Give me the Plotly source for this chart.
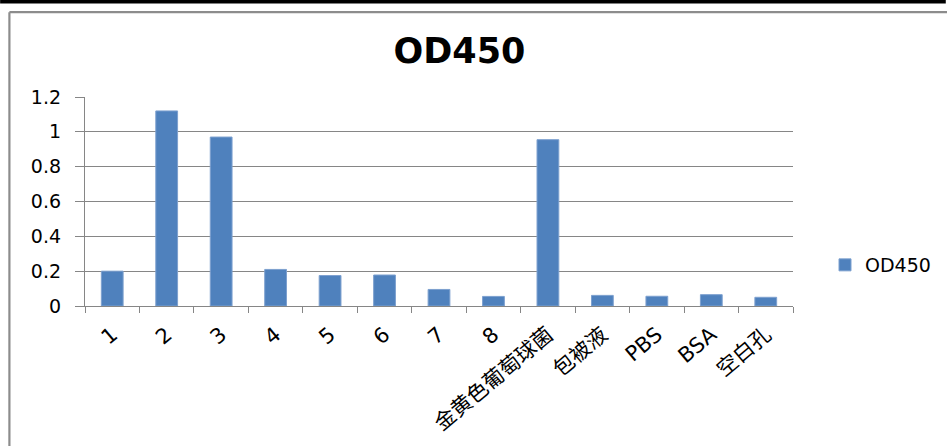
import plotly.graph_objects as go

# Sample names and measured OD450 readings
categories = ["1", "2", "3", "4", "5", "6", "7", "8",
              "金黄色葡萄球菌", "包被液", "PBS", "BSA", "空白孔"]
od450 = [0.20, 1.12, 0.97, 0.21, 0.175, 0.178, 0.095, 0.055,
         0.955, 0.061, 0.056, 0.065, 0.05]
y_ticks = [0, 0.2, 0.4, 0.6, 0.8, 1.0, 1.2]

W, H = 947, 446
ML, MR, MT, MB = 85, 153, 97, 140
PW, PH = W - ML - MR, H - MT - MB


def px_x(x):
    return (x - ML) / PW


def px_y(y):
    return (H - MB - y) / PH


FONT = "DejaVu Sans, Noto Sans CJK SC, sans-serif"
GRID = "#868686"

fig = go.Figure()
fig.add_trace(go.Bar(
    x=categories, y=od450, name="OD450",
    marker=dict(color="#4F81BD", line=dict(color="#7DA0CF", width=1)),
))

# outer frame: black rule along the top and the grey chart-area border
shapes = [
    dict(type="line", xref="paper", yref="paper",
         x0=px_x(0), x1=px_x(W), y0=px_y(1.8), y1=px_y(1.8),
         line=dict(color="black", width=3.5)),
    dict(type="line", xref="paper", yref="paper",
         x0=px_x(9.3), x1=px_x(W + 5), y0=px_y(12.2), y1=px_y(12.2),
         line=dict(color="#8C8C8C", width=2.2)),
    dict(type="line", xref="paper", yref="paper",
         x0=px_x(9.3), x1=px_x(9.3), y0=px_y(12.2), y1=px_y(H + 5),
         line=dict(color="#8C8C8C", width=2.2)),
]

fig.update_layout(
    width=W, height=H,
    margin=dict(l=ML, r=MR, t=MT, b=MB),
    paper_bgcolor="white", plot_bgcolor="white",
    bargap=0.6,
    shapes=shapes,
    title=dict(text="<b>OD450</b>", xref="paper", x=px_x(460), xanchor="center",
               yref="container", y=1 - 51 / H, yanchor="middle",
               font=dict(family=FONT, size=35, color="black")),
    showlegend=True,
    legend=dict(x=px_x(825), xanchor="left", y=px_y(265), yanchor="middle",
                font=dict(family=FONT, size=19, color="black"),
                bgcolor="rgba(0,0,0,0)"),
    xaxis=dict(type="category", tickson="boundaries", ticks="outside",
               ticklen=6, tickcolor=GRID, tickwidth=1.3,
               showline=True, linecolor=GRID, linewidth=1.3,
               showgrid=False, tickangle=-40, ticklabelstandoff=7,
               tickfont=dict(family=FONT, size=21, color="black"),
               range=[-0.5, len(categories) - 0.5]),
    yaxis=dict(range=[0, 1.2], tickvals=y_ticks,
               ticktext=[f"{v:g}" for v in y_ticks],
               ticks="outside", ticklen=9, tickcolor=GRID, tickwidth=1.3,
               showline=True, linecolor=GRID, linewidth=1.3,
               showgrid=True, gridcolor=GRID, gridwidth=1.3,
               zeroline=False, ticklabelstandoff=10,
               tickfont=dict(family=FONT, size=19, color="black")),
)

fig.write_html("out.html")
